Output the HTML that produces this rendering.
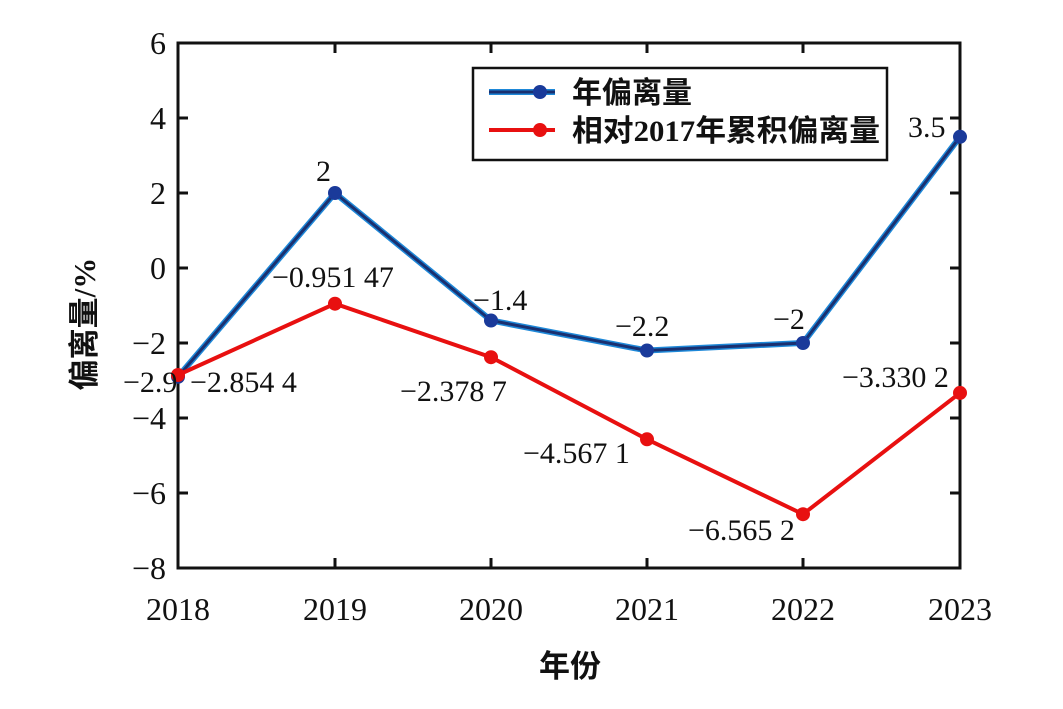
<!DOCTYPE html>
<html><head><meta charset="utf-8"><style>
html,body{margin:0;padding:0;background:#fff;}
svg{display:block;}
text{font-family:"Liberation Serif","Noto Serif CJK SC",serif;fill:#111;}
.cn{font-family:"Liberation Serif","Noto Sans CJK SC",sans-serif;font-weight:bold;}
</style></head><body>
<svg width="1063" height="709" viewBox="0 0 1063 709" xmlns="http://www.w3.org/2000/svg">
<rect x="0" y="0" width="1063" height="709" fill="#fff"/>
<g stroke="#111" stroke-width="3">
<rect x="178" y="43" width="782" height="525" fill="none"/>
<path d="M178 118h10M178 193h10M178 268h10M178 343h10M178 418h10M178 493h10M960 118h-10M960 193h-10M960 268h-10M960 343h-10M960 418h-10M960 493h-10"/>
<path d="M335 568v-10M491 568v-10M647 568v-10M803 568v-10M335 43v10M491 43v10M647 43v10M803 43v10"/>
</g>
<g font-size="32" text-anchor="end">
<text x="166" y="54">6</text><text x="166" y="129">4</text><text x="166" y="204">2</text><text x="166" y="279">0</text>
<text x="166" y="354">−2</text><text x="166" y="429">−4</text><text x="166" y="504">−6</text><text x="166" y="579">−8</text>
</g>
<g font-size="32" text-anchor="middle">
<text x="178" y="620">2018</text><text x="335" y="620">2019</text><text x="491" y="620">2020</text>
<text x="647" y="620">2021</text><text x="803" y="620">2022</text><text x="960" y="620">2023</text>
</g>
<text class="cn" x="570" y="677" font-size="31" text-anchor="middle">年份</text>
<text class="cn" x="0" y="0" font-size="31" text-anchor="middle" transform="translate(95,324) rotate(-90)">偏离量/%</text>
<polyline points="178,376.8 335,193 491,320.5 647,350.5 803,343 960,136.8" fill="none" stroke="#1e88d8" stroke-width="6"/>
<polyline points="178,376.8 335,193 491,320.5 647,350.5 803,343 960,136.8" fill="none" stroke="#1a3070" stroke-width="3"/>
<g fill="#1a3a9a"><circle cx="178" cy="376.8" r="7"/><circle cx="335" cy="193" r="7"/><circle cx="491" cy="320.5" r="7"/><circle cx="647" cy="350.5" r="7"/><circle cx="803" cy="343" r="7"/><circle cx="960" cy="136.8" r="7"/></g>
<polyline points="178,375 335,303.7 491,357.2 647,439.3 803,514.2 960,392.9" fill="none" stroke="#e81010" stroke-width="4"/>
<g fill="#e81010"><circle cx="178" cy="375" r="7"/><circle cx="335" cy="303.7" r="7"/><circle cx="491" cy="357.2" r="7"/><circle cx="647" cy="439.3" r="7"/><circle cx="803" cy="514.2" r="7"/><circle cx="960" cy="392.9" r="7"/></g>
<g font-size="30">
<text x="316" y="181">2</text>
<text x="908" y="137">3.5</text>
<text x="473" y="310">−1.4</text>
<text x="615" y="336">−2.2</text>
<text x="773" y="329">−2</text>
<text x="123" y="392">−2.9</text>
<text x="190" y="392">−2.854 4</text>
<text x="272" y="287">−0.951 47</text>
<text x="400" y="401">−2.378 7</text>
<text x="523" y="463">−4.567 1</text>
<text x="688" y="540">−6.565 2</text>
<text x="842" y="387">−3.330 2</text>
</g>
<rect x="473" y="68" width="414" height="92" fill="#fff" stroke="#111" stroke-width="2.5"/>
<line x1="489" y1="92" x2="555" y2="92" stroke="#1e88d8" stroke-width="6"/>
<line x1="489" y1="92" x2="555" y2="92" stroke="#1a3070" stroke-width="3"/>
<circle cx="540" cy="92" r="7" fill="#1a3a9a"/>
<line x1="489" y1="130" x2="555" y2="130" stroke="#e81010" stroke-width="4"/>
<circle cx="540" cy="130" r="7" fill="#e81010"/>
<text class="cn" x="572" y="103" font-size="30">年偏离量</text>
<text class="cn" x="572" y="141" font-size="30" textLength="308" lengthAdjust="spacingAndGlyphs">相对2017年累积偏离量</text>
</svg>
</body></html>
